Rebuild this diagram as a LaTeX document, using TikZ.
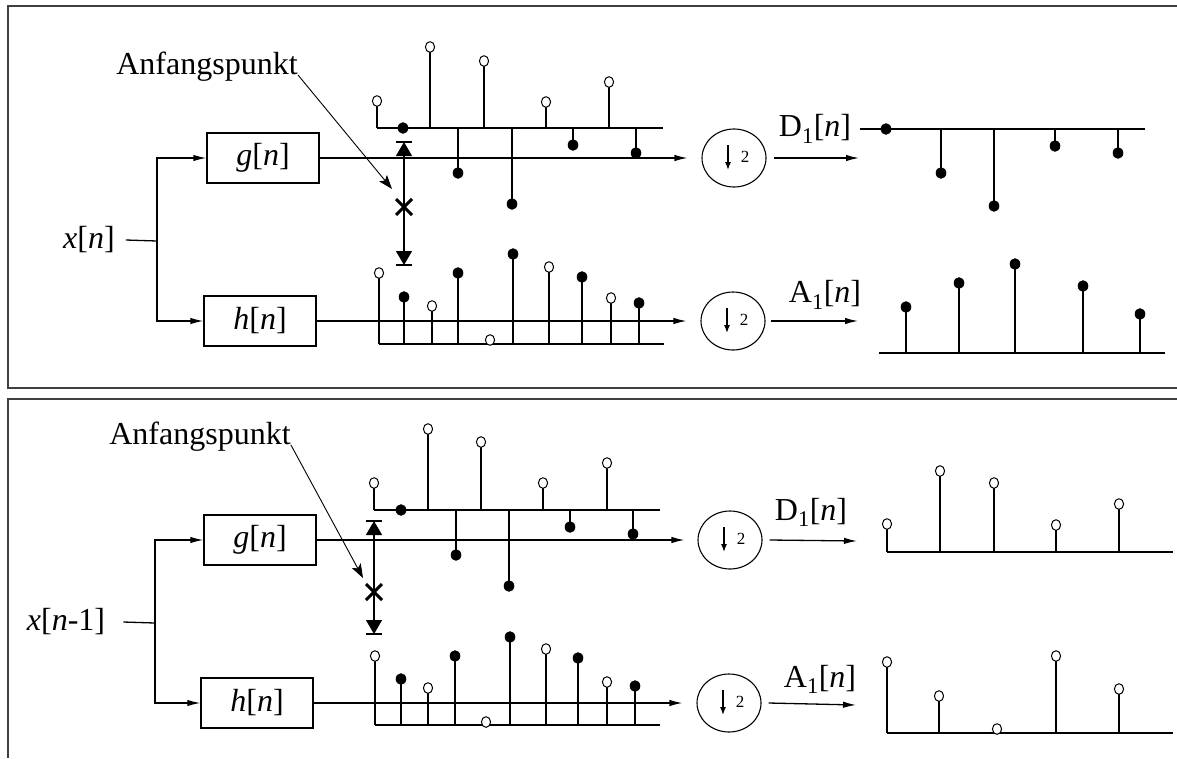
\documentclass[tikz,border=0pt]{standalone}
\usepackage{fontspec}
\setmainfont{Liberation Serif}
\usetikzlibrary{arrows.meta,shapes.geometric}
\newcommand\bigfont{\fontsize{32}{38}\selectfont}
\newcommand\smallfont{\fontsize{17}{19}\selectfont}
% #1 = axis y, #2 = list x/y/type (o = open, f = filled)
\newcommand\stemseq[2]{%
  \foreach \sx/\sy/\st in {#2}{%
    \draw[stemline] (\sx,#1) -- (\sx,\sy);
    \if\st o\relax
      \draw[opendot] (\sx,\sy) ellipse[x radius=4.6pt,y radius=5.3pt];
    \else
      \fill (\sx,\sy) ellipse[x radius=5.3pt,y radius=5.8pt];
    \fi
  }}
\begin{document}
\begin{tikzpicture}[x=1pt,y=-1pt,
  box/.style={draw,line width=1.3pt,minimum width=112pt,minimum height=50pt,inner sep=0pt,font=\bigfont},
  dsc/.style={draw,ellipse,line width=1.1pt,minimum width=64pt,minimum height=58pt,inner sep=0pt},
  arr/.style={line width=1.3pt,-{Latex[length=13pt,width=6.5pt]}},
  lbl/.style={inner sep=0pt,font=\bigfont},
  two/.style={inner sep=0pt,font=\smallfont},
  dimarr/.style={line width=1.4pt,{Triangle[length=14pt,width=16pt]}-{Triangle[length=14pt,width=16pt]}},
  ptr/.style={line width=0.9pt,-{Stealth[length=14pt,width=10pt,inset=3pt]}},
  stemline/.style={line width=1.3pt},
  axisline/.style={line width=1.3pt},
  opendot/.style={draw,fill=white,line width=1pt},
  frame/.style={draw=black!75,line width=1.6pt},
  cross/.style={line width=3pt},
  bar/.style={line width=1.4pt}
]
\useasboundingbox (0,0) rectangle (1177,758);

% frames
\draw[frame] (1177,6) -- (8,6) -- (8,388) -- (1177,388);
\draw[frame] (1177,399) -- (8,399) -- (8,758);

% ================= TOP PANEL =================
\node[lbl] (anf1) at (207,67) {Anfangspunkt};
\node[lbl] (xin1) at (89,240) {\textit{x}[\textit{n}]};
\node[box] (g1) at (263,158) {\textit{g}[\textit{n}]};
\node[box] (h1) at (260,321) {\textit{h}[\textit{n}]};
\coordinate (s1) at (157,241);
\draw[line width=1.3pt] ([xshift=11pt]xin1.east) -- (s1);
\draw[arr] (s1) |- (g1.west);
\draw[arr] (s1) |- (h1.west);

\node[dsc] (cg1) at (734,158) {};
\node[dsc] (ch1) at (733,321) {};
\foreach \c in {cg1,ch1}{
  \draw[line width=1.2pt,-{Latex[length=8pt,width=6pt]}] ([xshift=-6pt,yshift=13pt]\c.center) -- ([xshift=-6pt,yshift=-12pt]\c.center);
  \node[two] at ([xshift=11pt,yshift=1pt]\c.center) {2};
}
\draw[arr,shorten >=14pt] (g1.east) -- (cg1.west);
\draw[arr,shorten >=14pt] (h1.east) -- (ch1.west);
\coordinate (od1) at (859,158);
\coordinate (oa1) at (858,321);
\draw[arr] ([xshift=7pt]cg1.east) -- (od1);
\draw[arr] ([xshift=5pt]ch1.east) -- (oa1);
\node[lbl] (d1) at (815,129) {D\textsubscript{1}[\textit{n}]};
\node[lbl] (a1) at (825,295) {A\textsubscript{1}[\textit{n}]};

% dimension marker + Anfangspunkt
\coordinate (dt1) at (404,142);
\coordinate (db1) at (404,265);
\draw[dimarr] (dt1) -- (db1);
\draw[bar] ([xshift=-8pt]dt1) -- ([xshift=8pt]dt1);
\draw[bar] ([xshift=-8pt]db1) -- ([xshift=8pt]db1);
\coordinate (x1) at (404,207);
\draw[cross] ([xshift=-8pt,yshift=-8pt]x1) -- ([xshift=8pt,yshift=8pt]x1);
\draw[cross] ([xshift=-8pt,yshift=8pt]x1) -- ([xshift=8pt,yshift=-8pt]x1);
\coordinate (tip1) at (392,189);
\draw[ptr] (anf1.base east) -- (tip1);

% sequences
\draw[axisline] (377,128) -- (663,128);
\stemseq{128}{377/101/o,403/128/f,430/47/o,458/173/f,484/61/o,512/204/f,546/102/o,573/145/f,609/82/o,636/153/f}
\draw[axisline] (379,344) -- (664,344);
\stemseq{344}{379/273/o,404/297/f,432/306/o,458/273/f,490/340/o,513/254/f,549/267/o,582/277/f,611/298/o,639/303/f}
\draw[axisline] (860,129) -- (1145,129);
\stemseq{129}{886/129/f,941/173/f,994/206/f,1055/146/f,1118/153/f}
\draw[axisline] (879,353) -- (1165,353);
\stemseq{353}{906/307/f,959/283/f,1015/264/f,1083/286/f,1140/314/f}

% ================= BOTTOM PANEL =================
\node[lbl] (anf2) at (200,437) {Anfangspunkt};
\node[lbl] (xin2) at (66,622) {\textit{x}[\textit{n}-1]};
\node[box] (g2) at (260,540) {\textit{g}[\textit{n}]};
\node[box] (h2) at (257,703) {\textit{h}[\textit{n}]};
\coordinate (s2) at (155,623);
\draw[line width=1.3pt] ([xshift=18pt]xin2.east) -- (s2);
\draw[arr] (s2) |- (g2.west);
\draw[arr] (s2) |- (h2.west);

\node[dsc] (cg2) at (730,540) {};
\node[dsc] (ch2) at (729,703) {};
\foreach \c in {cg2,ch2}{
  \draw[line width=1.2pt,-{Latex[length=8pt,width=6pt]}] ([xshift=-6pt,yshift=13pt]\c.center) -- ([xshift=-6pt,yshift=-12pt]\c.center);
  \node[two] at ([xshift=11pt,yshift=1pt]\c.center) {2};
}
\draw[arr,shorten >=13pt] (g2.east) -- (cg2.west);
\draw[arr,shorten >=14pt] (h2.east) -- (ch2.west);
\coordinate (od2) at (857,541);
\coordinate (oa2) at (856,705);
\draw[arr] ([xshift=7pt]cg2.east) -- (od2);
\draw[arr] ([xshift=7pt]ch2.east) -- (oa2);
\node[lbl] (d2) at (811,512) {D\textsubscript{1}[\textit{n}]};
\node[lbl] (a2) at (820,679) {A\textsubscript{1}[\textit{n}]};

\coordinate (dt2) at (374,521);
\coordinate (db2) at (374,634);
\draw[dimarr] (dt2) -- (db2);
\draw[bar] ([xshift=-8pt]dt2) -- ([xshift=8pt]dt2);
\draw[bar] ([xshift=-8pt]db2) -- ([xshift=8pt]db2);
\coordinate (x2) at (374,592);
\draw[cross] ([xshift=-8pt,yshift=-8pt]x2) -- ([xshift=8pt,yshift=8pt]x2);
\draw[cross] ([xshift=-8pt,yshift=8pt]x2) -- ([xshift=8pt,yshift=-8pt]x2);
\coordinate (tip2) at (363,578);
\draw[ptr] (anf2.base east) -- (tip2);

\draw[axisline] (374,510) -- (660,510);
\stemseq{510}{374/483/o,401/510/f,428/429/o,456/555/f,481/442/o,509/586/f,543/483/o,570/527/f,607/463/o,633/534/f}
\draw[axisline] (375,725) -- (660,725);
\stemseq{725}{375/656/o,401/679/f,428/688/o,455/656/f,486/722/o,510/637/f,546/649/o,578/658/f,607/682/o,635/686/f}
\draw[axisline] (887,552) -- (1173,552);
\stemseq{552}{887/524/o,940/471/o,994/483/o,1056/525/o,1119/504/o}
\draw[axisline] (887,733) -- (1173,733);
\stemseq{733}{887/662/o,939/696/o,997/729/o,1056/656/o,1119/689/o}
\end{tikzpicture}
\end{document}
